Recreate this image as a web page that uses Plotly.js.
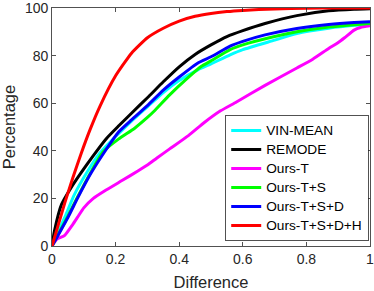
<!DOCTYPE html>
<html>
<head>
<meta charset="utf-8">
<script src="https://cdn.plot.ly/plotly-3.0.1.min.js"></script>
<style>html,body{margin:0;padding:0;background:#fff;}#chart{width:374px;height:291px;}</style>
</head>
<body>
<div id="chart"></div>
<script>
var seriesNames = ["VIN-MEAN", "REMODE", "Ours-T", "Ours-T+S", "Ours-T+S+D", "Ours-T+S+D+H"];
var seriesColors = ["#00FFFF", "#000000", "#FF00FF", "#00FF00", "#0000FF", "#FF0000"];

var vinX = [0, 0.04, 0.07, 0.11, 0.15, 0.2, 0.25, 0.3, 0.35, 0.4, 0.46, 0.5, 0.56, 0.6, 0.7, 0.77, 0.87, 0.95, 1];
var vinY = [0, 12, 21.5, 31, 39, 46, 52.5, 58.5, 64.5, 69.5, 74.1, 76.5, 80.3, 82.5, 86.5, 89.3, 91.5, 92.7, 93.2];

var remodeX = [0, 0.008, 0.03, 0.06, 0.09, 0.13, 0.17, 0.21, 0.25, 0.3, 0.35, 0.4, 0.45, 0.5, 0.55, 0.6, 0.67, 0.77, 0.87, 0.95, 1];
var remodeY = [0, 6.5, 17.5, 24.5, 30.5, 38, 45, 50.5, 55.8, 62.3, 69, 75.3, 80.5, 84.5, 88, 90.5, 93.5, 96.8, 98.8, 99.5, 99.7];

var oursTX = [0, 0.015, 0.04, 0.065, 0.08, 0.1, 0.13, 0.17, 0.22, 0.27, 0.3, 0.33, 0.37, 0.43, 0.48, 0.53, 0.58, 0.67, 0.77, 0.82, 0.87, 0.9, 0.92, 0.95, 0.97, 1];
var oursTY = [0, 2.8, 4.5, 9, 12, 16, 20, 23.5, 27.5, 31.5, 34, 37, 40.8, 46.5, 52, 56.8, 60.5, 67.5, 74.8, 78.5, 83, 85.5, 87.5, 90.7, 91.8, 92.5];

var oursTSX = [0, 0.05, 0.08, 0.12, 0.16, 0.21, 0.26, 0.3, 0.32, 0.37, 0.42, 0.47, 0.5, 0.56, 0.6, 0.7, 0.77, 0.87, 0.95, 1];
var oursTSY = [0, 12.5, 20.5, 30.5, 39.5, 45, 49.5, 54, 56.5, 63.5, 69.8, 75.5, 77.8, 82.5, 84.5, 88, 90, 92, 93, 93.5];

var oursTSDX = [0, 0.05, 0.08, 0.12, 0.165, 0.21, 0.25, 0.3, 0.35, 0.4, 0.46, 0.5, 0.56, 0.6, 0.67, 0.77, 0.87, 0.95, 1];
var oursTSDY = [0, 12, 20, 30, 39.5, 48, 53, 59, 65.5, 71, 77, 79.5, 84, 86, 88.7, 91.4, 93.1, 93.9, 94.2];

var oursTSDHX = [0, 0.02, 0.04, 0.065, 0.092, 0.12, 0.15, 0.2, 0.25, 0.3, 0.35, 0.4, 0.45, 0.5, 0.55, 0.6, 0.7, 0.8, 0.9, 1];
var oursTSDHY = [0, 9, 18, 28.5, 39, 49, 58.5, 71.5, 81, 87.5, 91.5, 94.5, 96.5, 97.7, 98.5, 99, 99.6, 99.9, 100, 100];

var xTickVals = [0, 0.2, 0.4, 0.6, 0.8, 1];
var xTickText = ["0", "0.2", "0.4", "0.6", "0.8", "1"];
var yTickVals = [0, 20, 40, 60, 80, 100];
var yTickText = ["0", "20", "40", "60", "80", "100"];

var xs = [vinX, remodeX, oursTX, oursTSX, oursTSDX, oursTSDHX];
var ys = [vinY, remodeY, oursTY, oursTSY, oursTSDY, oursTSDHY];

var traces = seriesNames.map(function (n, i) {
  return {
    x: xs[i], y: ys[i], type: "scatter", mode: "lines",
    name: '<span style="font-size:13.7px">' + n + '</span>',
    line: {color: seriesColors[i], width: 3, shape: "spline", smoothing: 0.5}
  };
});

var axisCommon = {
  showgrid: false, zeroline: false, showline: true, linecolor: "#262626", linewidth: 0.8,
  mirror: "ticks", ticks: "inside", ticklen: 4, tickwidth: 0.8, tickcolor: "#262626",
  tickfont: {family: "Liberation Sans, Arial, sans-serif", size: 14, color: "#262626"},
  tickmode: "array", ticklabeloverflow: "allow"
};

var layout = {
  width: 374, height: 291,
  margin: {l: 52, r: 4, t: 8, b: 45},
  paper_bgcolor: "#fff", plot_bgcolor: "#fff",
  font: {family: "Liberation Sans, Arial, sans-serif", color: "#262626"},
  showlegend: true,
  xaxis: Object.assign({}, axisCommon, {
    range: [0, 1], tickvals: xTickVals, ticktext: xTickText,
    title: {text: "Difference", font: {size: 16.5, color: "#262626"}, standoff: 11}
  }),
  yaxis: Object.assign({}, axisCommon, {
    range: [0, 100], tickvals: yTickVals, ticktext: yTickText,
    title: {text: "Percentage", font: {size: 16.5, color: "#262626"}, standoff: 9}
  }),
  legend: {
    x: 0.995, y: 0.02, xanchor: "right", yanchor: "bottom",
    bgcolor: "#fff", bordercolor: "#262626", borderwidth: 0.8,
    font: {family: "Liberation Sans, Arial, sans-serif", size: 12.3, color: "#000"},
    tracegroupgap: 0
  }
};

Plotly.newPlot("chart", traces, layout, {displayModeBar: false, staticPlot: true});
</script>
</body>
</html>
